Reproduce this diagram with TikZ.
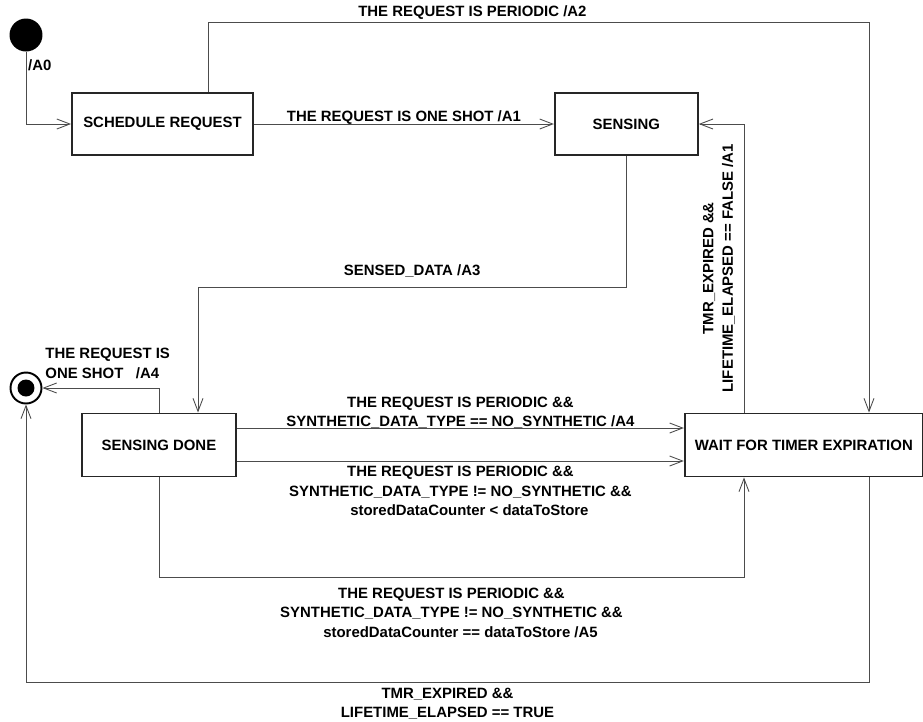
\documentclass[tikz,border=0pt]{standalone}
\usepackage{fontspec}
\setmainfont{Liberation Sans}
\usetikzlibrary{positioning,calc,arrows.meta}
\newcommand{\lblfont}{\fontsize{8.5}{11.1}\selectfont\bfseries}
\tikzset{sbox/.style={draw=black!85, line width=1.1pt, minimum height=1.24cm, inner sep=0pt, font=\lblfont}}
\tikzset{arr/.style={draw=black!70, line width=0.5pt, -{Straight Barb[length=0.26cm,width=0.2cm]}}}
\tikzset{lbl/.style={font=\lblfont, align=center, inner sep=1pt}}
\tikzset{initst/.style={circle, fill=black, minimum size=0.66cm, inner sep=0pt}}
\tikzset{finalst/.style={circle, draw=black, line width=1.1pt, minimum size=0.62cm, inner sep=0pt,
	path picture={\fill[black] (path picture bounding box.center) circle (0.17cm);}}}

\begin{document}
\begin{tikzpicture}[x=0.02cm, y=-0.02cm]
	\useasboundingbox (0,0) rectangle (923,721);
	% states
	\node[initst] (init) at (26,35) {};
	\node[finalst] (final) at (26,388) {};
	\node[sbox, minimum width=3.62cm] (sched) at (162.5,124) {SCHEDULE REQUEST};
	\node[sbox, minimum width=2.86cm, right=6cm of sched] (sensing) {SENSING};
	\node[sbox, minimum width=3.08cm, minimum height=1.26cm] (sdone) at (159,445) {SENSING DONE};
	\node[sbox, minimum width=4.76cm, minimum height=1.26cm, right=8.94cm of sdone] (wait) {WAIT FOR TIMER EXPIRATION};
	% bend points
	\coordinate (a2l) at (208,22);
	\coordinate (a2r) at (869,22);
	\coordinate (a3l) at (198,287);
	\coordinate (a5) at (744,577);
	\coordinate (a6r) at (869,682);
	\coordinate (a6l) at (26,682);
	% transitions
	\draw[arr] (init) |- node[lbl, pos=0.09, right]{/A0} (sched);
	\draw[arr] (sched) -- node[lbl, above=-1.3pt]{THE REQUEST IS ONE SHOT /A1} (sensing);
	\draw[arr] (a2l |- sched.north) -- (a2l) --
	   node[lbl, above=0.2pt, pos=0.4]{THE REQUEST IS PERIODIC /A2} (a2r) -- (a2r |- wait.north);
	\draw[arr] (sensing) |-
	   node[lbl, above=4pt, pos=0.75]{SENSED\_DATA /A3} (a3l) -- (a3l |- sdone.north);
	\draw[arr] (sdone) |-
	   node[lbl, above=4.2pt, pos=0.72, align=left]{THE REQUEST IS\\ONE SHOT \ \ /A4} (final);
	\draw[arr] ([yshift=0.34cm]sdone.east) --
	   node[lbl, above=-1.6pt]{THE REQUEST IS PERIODIC \&\&\\SYNTHETIC\_DATA\_TYPE == NO\_SYNTHETIC /A4}
	   ([yshift=0.34cm]wait.west);
	\draw[arr] ([yshift=-0.32cm]sdone.east) --
	   node[lbl, below=1.8pt]{THE REQUEST IS PERIODIC \&\&\\SYNTHETIC\_DATA\_TYPE != NO\_SYNTHETIC \&\&\\\hspace*{0.36cm}storedDataCounter < dataToStore}
	   ([yshift=-0.32cm]wait.west);
	\draw[arr] (sdone) |-
	   node[lbl, below=5pt, pos=0.75]{THE REQUEST IS PERIODIC \&\&\\SYNTHETIC\_DATA\_TYPE != NO\_SYNTHETIC \&\&\\\hspace*{0.36cm}storedDataCounter == dataToStore /A5}
	   (a5) -- (a5 |- wait.south);
	\draw[arr] (a5 |- wait.north) |-
	   node[lbl, rotate=90, anchor=south, pos=0.25, yshift=4pt]{TMR\_EXPIRED \&\&\\LIFETIME\_ELAPSED == FALSE /A1} (sensing);
	\draw[arr] (a6r |- wait.south) -- (a6r) --
	   node[lbl, below=2pt]{TMR\_EXPIRED \&\&\\LIFETIME\_ELAPSED == TRUE} (a6l) -- (final);
\end{tikzpicture}
\end{document}
